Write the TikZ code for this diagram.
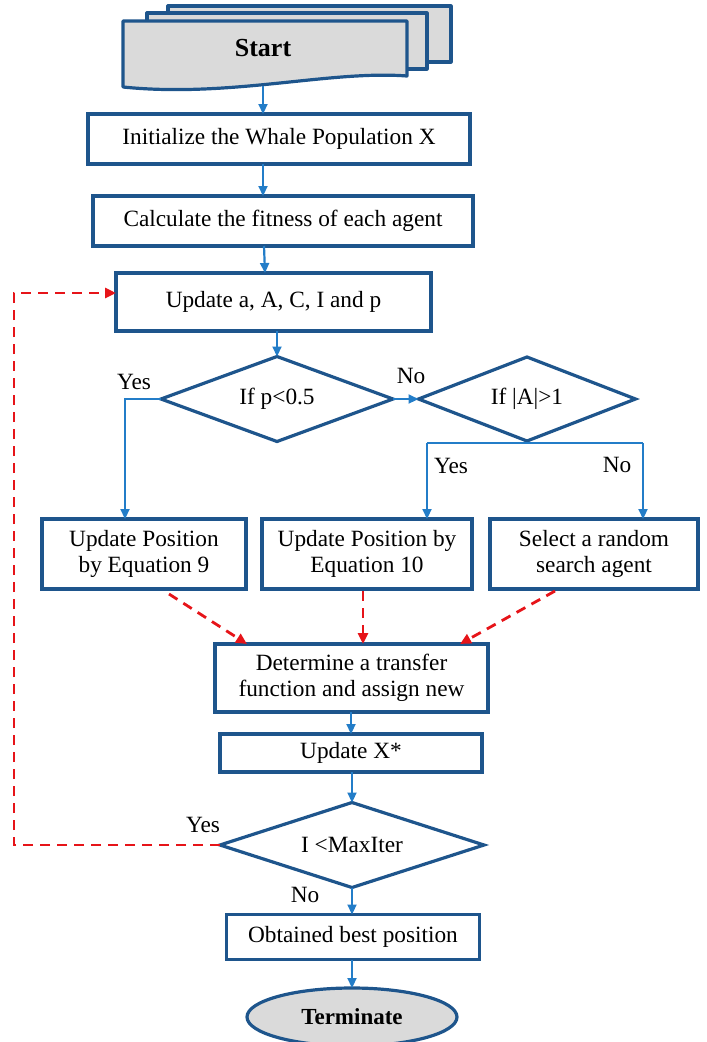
\documentclass[tikz,border=0pt]{standalone}
\usepackage{fontspec}
\setmainfont{Liberation Serif}
\usetikzlibrary{shapes.geometric,arrows.meta,calc}
\definecolor{boxblue}{RGB}{30,85,140}
\definecolor{arrblue}{RGB}{35,125,200}
\definecolor{fillgray}{RGB}{218,218,218}
\definecolor{dred}{RGB}{230,20,25}
\begin{document}
\begin{tikzpicture}[x=1pt,y=-1pt,
 txt/.style={font=\fontsize{23.3}{26.5}\selectfont},
 box/.style={draw=boxblue,line width=3.4pt,rectangle,inner sep=0pt,outer sep=0pt,txt,align=center},
 dia/.style={draw=boxblue,line width=3.2pt,diamond,aspect=2.7,inner sep=0pt,outer sep=0pt,txt},
 arr/.style={draw=arrblue,line width=2.2pt,-{Triangle[length=10pt,width=9pt]}},
 bline/.style={draw=arrblue,line width=2.2pt},
 darr/.style={draw=dred,line width=2.8pt,dash pattern=on 10pt off 7pt,-{Triangle[length=11pt,width=10pt]}},
 lbl/.style={txt,inner sep=0pt},
 docpage/.style={draw=boxblue,line width=3.2pt,fill=fillgray,line join=round}]
\useasboundingbox (0,0) rectangle (707,1042);

% Start: stacked documents
\draw[docpage] (168,6) rectangle (451,62);
\draw[docpage] (147,13) rectangle (427,69);
\draw[docpage] (123,21) -- (407,21) -- (407,76) .. controls (330,70) and (230,98) .. (123,87) -- cycle;
\node[font=\fontsize{26}{30}\selectfont\bfseries] (start) at (263,48) {Start};
\coordinate (sb) at (263,86);

% boxes
\node[box,minimum width=382pt,minimum height=50pt] (init) at (279,139) {Initialize the Whale Population X};
\node[box,minimum width=380pt,minimum height=50pt] (calc) at (283,221) {Calculate the fitness of each agent};
\node[box,minimum width=315pt,minimum height=58pt] (upd) at (273.5,302) {Update a, A, C, I and p};
\node[dia,minimum width=232pt,minimum height=85pt] (d1) at (277,399) {If p<0.5};
\node[dia,minimum width=217pt,minimum height=84pt] (d2) at (527,399) {If |A|>1};
\node[box,minimum width=204pt,minimum height=70pt] (b1) at (144,554) {Update Position\\by Equation 9};
\node[box,minimum width=210pt,minimum height=70pt] (b2) at (367,554) {Update Position by\\Equation 10};
\node[box,minimum width=208pt,minimum height=70pt] (b3) at (594,554) {Select a random\\search agent};
\node[box,minimum width=273pt,minimum height=68pt] (b4) at (351.5,678) {Determine a transfer\\function and assign new};
\node[box,minimum width=262pt,minimum height=38pt] (b5) at (351,753) {Update X*};
\node[dia,minimum width=264pt,minimum height=85pt] (d3) at (352,845) {I <MaxIter};
\node[box,minimum width=253pt,minimum height=45pt] (b6) at (353,937) {Obtained best position};
\node[ellipse,draw=boxblue,line width=3.2pt,fill=fillgray,inner sep=0pt,outer sep=0pt,
      minimum width=210pt,minimum height=58pt,font=\fontsize{23}{27}\selectfont\bfseries] (term) at (352,1017) {Terminate};

% labels
\node[lbl] (y1) at (134,382) {Yes};
\node[lbl] (n1) at (411,376) {No};
\node[lbl] (y2) at (451,466) {Yes};
\node[lbl] (n2) at (617,465) {No};
\node[lbl] (y3) at (203,825) {Yes};
\node[lbl] (n3) at (305,895) {No};

% blue connectors
\draw[arr] (sb) -- (sb |- init.north);
\draw[arr] (init.south -| sb) -- (calc.north -| sb);
\draw[arr] ([xshift=-19pt]calc.south) -- ([xshift=-8.5pt]upd.north);
\draw[arr] (upd.south -| d1.north) -- (d1.north);
\draw[arr] (d1.east) -- (d2.west);
\coordinate (ycol) at (125,399);
\draw[arr] (d1.west) -| (b1.north -| ycol);
\coordinate (bl) at (427,443);
\coordinate (br) at (643,443);
\draw[bline] (bl) -- (br);
\draw[arr] (bl) -- (b2.north -| bl);
\draw[arr] (br) -- (b3.north -| br);
\draw[arr] (b4.south -| b5.north) -- (b5.north);
\draw[arr] (b5.south -| d3.north) -- (d3.north);
\draw[arr] (d3.south) -- (d3.south |- b6.north);
\draw[arr] (b6.south -| term.north) -- (term.north);

% red dashed connectors
\draw[darr] ([xshift=25pt,yshift=-5pt]b1.south) -- ([xshift=-104.5pt]b4.north);
\draw[darr] ([xshift=-4pt,yshift=-2pt]b2.south) -- (b4.north -| 363,0);
\draw[darr] ([xshift=-39pt,yshift=-2pt]b3.south) -- ([xshift=108.5pt]b4.north);
\coordinate (lp) at (14,293);
\draw[darr] (d3.west) -| (lp) -- (lp -| upd.west);
\end{tikzpicture}
\end{document}
